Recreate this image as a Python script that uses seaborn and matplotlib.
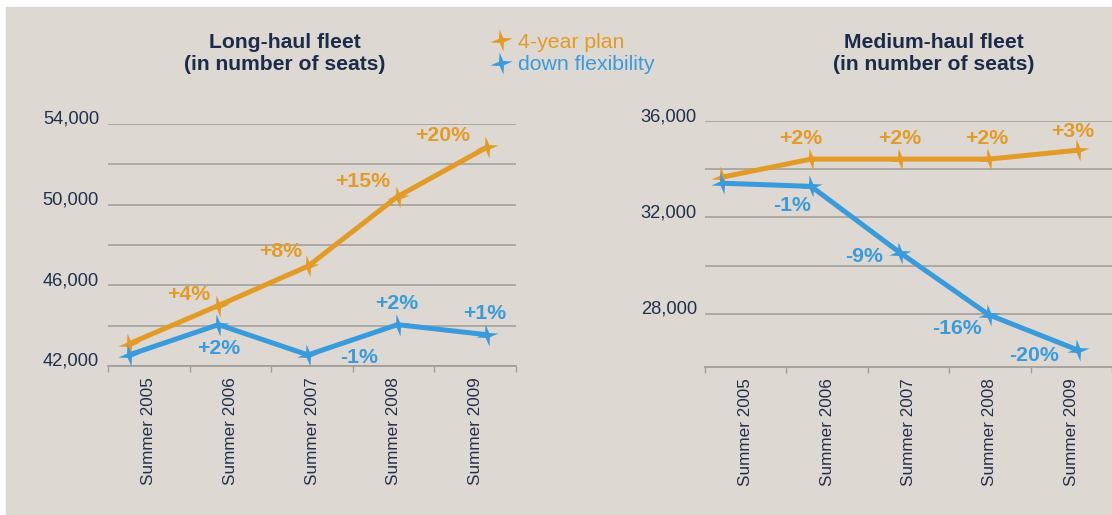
import numpy as np
import pandas as pd
import matplotlib
matplotlib.use("Agg")
import matplotlib.pyplot as plt
from matplotlib.path import Path
from matplotlib.lines import Line2D
from matplotlib.patches import Rectangle
import seaborn as sns

# ---------------- data ----------------
seasons = ["Summer 2005", "Summer 2006", "Summer 2007", "Summer 2008", "Summer 2009"]
series_names = ["4-year plan", "down flexibility"]

long_plan = [43100, 45000, 46950, 50400, 52850]
long_flex = [42550, 44050, 42550, 44050, 43550]
long_plan_pct = ["", "+4%", "+8%", "+15%", "+20%"]
long_flex_pct = ["", "+2%", "-1%", "+2%", "+1%"]

medium_plan = [33670, 34420, 34420, 34420, 34790]
medium_flex = [33420, 33290, 30540, 27960, 26500]
medium_plan_pct = ["", "+2%", "+2%", "+2%", "+3%"]
medium_flex_pct = ["", "-1%", "-9%", "-16%", "-20%"]

long_ylabels = [42000, 46000, 50000, 54000]
long_grid = [42000, 44000, 46000, 48000, 50000, 52000, 54000]
medium_ylabels = [28000, 32000, 36000]
medium_grid = [28000, 30000, 32000, 34000, 36000]

# ---------------- style ----------------
sns.set_theme(style="white")
plt.rcParams["font.family"] = ["Liberation Sans", "DejaVu Sans"]

W, H = 1112, 515
BG = "#DDD9D2"
ORANGE = "#E29B27"
BLUE = "#3A9BDC"
NAVY = "#1C2B4A"
TICKC = "#22304D"
GRIDC = "#9E9C97"
palette = {series_names[0]: ORANGE, series_names[1]: BLUE}


def star_marker(n=4, inner=0.27, rot=10):
    k = np.arange(2 * n)
    ang = np.deg2rad(rot + 90 + k * 180.0 / n)
    r = np.where(k % 2 == 0, 1.0, inner)
    verts = np.column_stack([r * np.cos(ang), r * np.sin(ang)])
    verts = np.vstack([verts, verts[:1]])
    codes = [Path.MOVETO] + [Path.LINETO] * (2 * n - 1) + [Path.CLOSEPOLY]
    return Path(verts, codes)


STAR = star_marker()

fig = plt.figure(figsize=(W / 100, H / 100), dpi=100)
fig.patch.set_facecolor("white")
fig.patches.append(Rectangle((6 / W, 0), 1 - 6 / W, 1 - 7 / H,
                             transform=fig.transFigure, color=BG, zorder=-10))

ax1 = fig.add_axes([108 / W, 1 - 366 / H, 408 / W, 242 / H])
ax2 = fig.add_axes([705 / W, 1 - 367 / H, 407 / W, 246 / H])

panels = [
    dict(ax=ax1, plan=long_plan, flex=long_flex, plan_pct=long_plan_pct,
         flex_pct=long_flex_pct, ylabels=long_ylabels, grid=long_grid,
         ylim=(42000, 54000), xlim=(-0.2346, 4.324), pad=6.5,
         plan_off=[(0, 0), (-21.6, 7.9), (-19.4, 10.8), (-25.2, 10.8), (-31.7, 8.6)],
         flex_off=[(0, 0), (0, -17.3), (36.7, -2.2), (-0.7, 15.1), (-1.4, 15.1)],
         title_x=285),
    dict(ax=ax2, plan=medium_plan, flex=medium_flex, plan_pct=medium_plan_pct,
         flex_pct=medium_flex_pct, ylabels=medium_ylabels, grid=medium_grid,
         ylim=(25800, 36000), xlim=(-0.191, 4.382), pad=5.8,
         plan_off=[(0, 0), (-7.2, 15.1), (0, 15.1), (-1.4, 15.1), (-3.6, 13.7)],
         flex_off=[(0, 0), (-13.7, -13.7), (-25.9, -2.9), (-23.0, -10.1), (-31.7, -3.6)],
         title_x=934),
]

titles = ["Long-haul fleet\n(in number of seats)", "Medium-haul fleet\n(in number of seats)"]

for p, title in zip(panels, titles):
    ax = p["ax"]
    ax.set_facecolor("none")
    n = len(seasons)
    df = pd.DataFrame({
        "pos": list(range(n)) * 2,
        "seats": p["plan"] + p["flex"],
        "series": [series_names[0]] * n + [series_names[1]] * n,
    })
    sns.lineplot(data=df, x="pos", y="seats", hue="series", hue_order=series_names,
                 palette=palette, marker=STAR, markersize=16, mew=0, lw=3.6,
                 legend=False, ax=ax, sort=False, errorbar=None, zorder=3)

    # annotations
    for vals, pcts, offs, col in [(p["plan"], p["plan_pct"], p["plan_off"], ORANGE),
                                  (p["flex"], p["flex_pct"], p["flex_off"], BLUE)]:
        for i, (v, t, o) in enumerate(zip(vals, pcts, offs)):
            if t:
                ax.annotate(t, xy=(i, v), xytext=o, textcoords="offset points",
                            ha="center", va="center", fontsize=15.3,
                            fontweight="bold", color=col, zorder=5)

    ax.set_xlim(*p["xlim"])
    ax.set_ylim(*p["ylim"])

    # y axis: grid lines every 2000, labels every 4000
    ax.set_yticks(p["grid"])
    ax.set_yticklabels([f"{g:,}" if g in p["ylabels"] else "" for g in p["grid"]])
    ax.tick_params(axis="y", length=0, pad=p["pad"], labelsize=13.2, labelcolor=TICKC)
    for t in ax.get_yticklabels():
        t.set_verticalalignment("baseline")
    ax.yaxis.grid(True, color=GRIDC, lw=1.1)
    ax.xaxis.grid(False)
    ax.set_axisbelow(True)

    # x axis: ticks at category boundaries, labels at centres
    bounds = np.linspace(p["xlim"][0], p["xlim"][1], n + 1)
    mids = (bounds[:-1] + bounds[1:]) / 2
    ax.set_xticks(bounds)
    ax.set_xticklabels([""] * (n + 1))
    ax.set_xticks(mids, minor=True)
    ax.set_xticklabels(seasons, minor=True, rotation=90)
    ax.tick_params(axis="x", which="major", bottom=True, length=4.5, width=1.0,
                   color=GRIDC)
    ax.tick_params(axis="x", which="minor", bottom=True, length=0, pad=8.0,
                   labelsize=12.3, labelcolor=TICKC)

    for s in ["top", "right", "left"]:
        ax.spines[s].set_visible(False)
    ax.spines["bottom"].set_color(GRIDC)
    ax.spines["bottom"].set_linewidth(1.2)
    ax.spines["bottom"].set_zorder(2)
    ax.set_xlabel("")
    ax.set_ylabel("")

    fig.text(p["title_x"] / W, 1 - 53 / H, title, ha="center", va="center",
             fontsize=15.2, fontweight="bold", color=NAVY, linespacing=1.2)

# legend
handles = [Line2D([], [], ls="none", marker=STAR, markersize=16, mew=0,
                  color=palette[s]) for s in series_names]
fig.legend(handles, series_names, loc="center left",
           bbox_to_anchor=(490 / W, 1 - 53.5 / H), bbox_transform=fig.transFigure,
           frameon=False, fontsize=15.3, labelcolor="linecolor", handlelength=1.0,
           handletextpad=0.3, labelspacing=0.18, borderpad=0, borderaxespad=0)

fig.savefig("out.png", dpi=100, facecolor="white")
